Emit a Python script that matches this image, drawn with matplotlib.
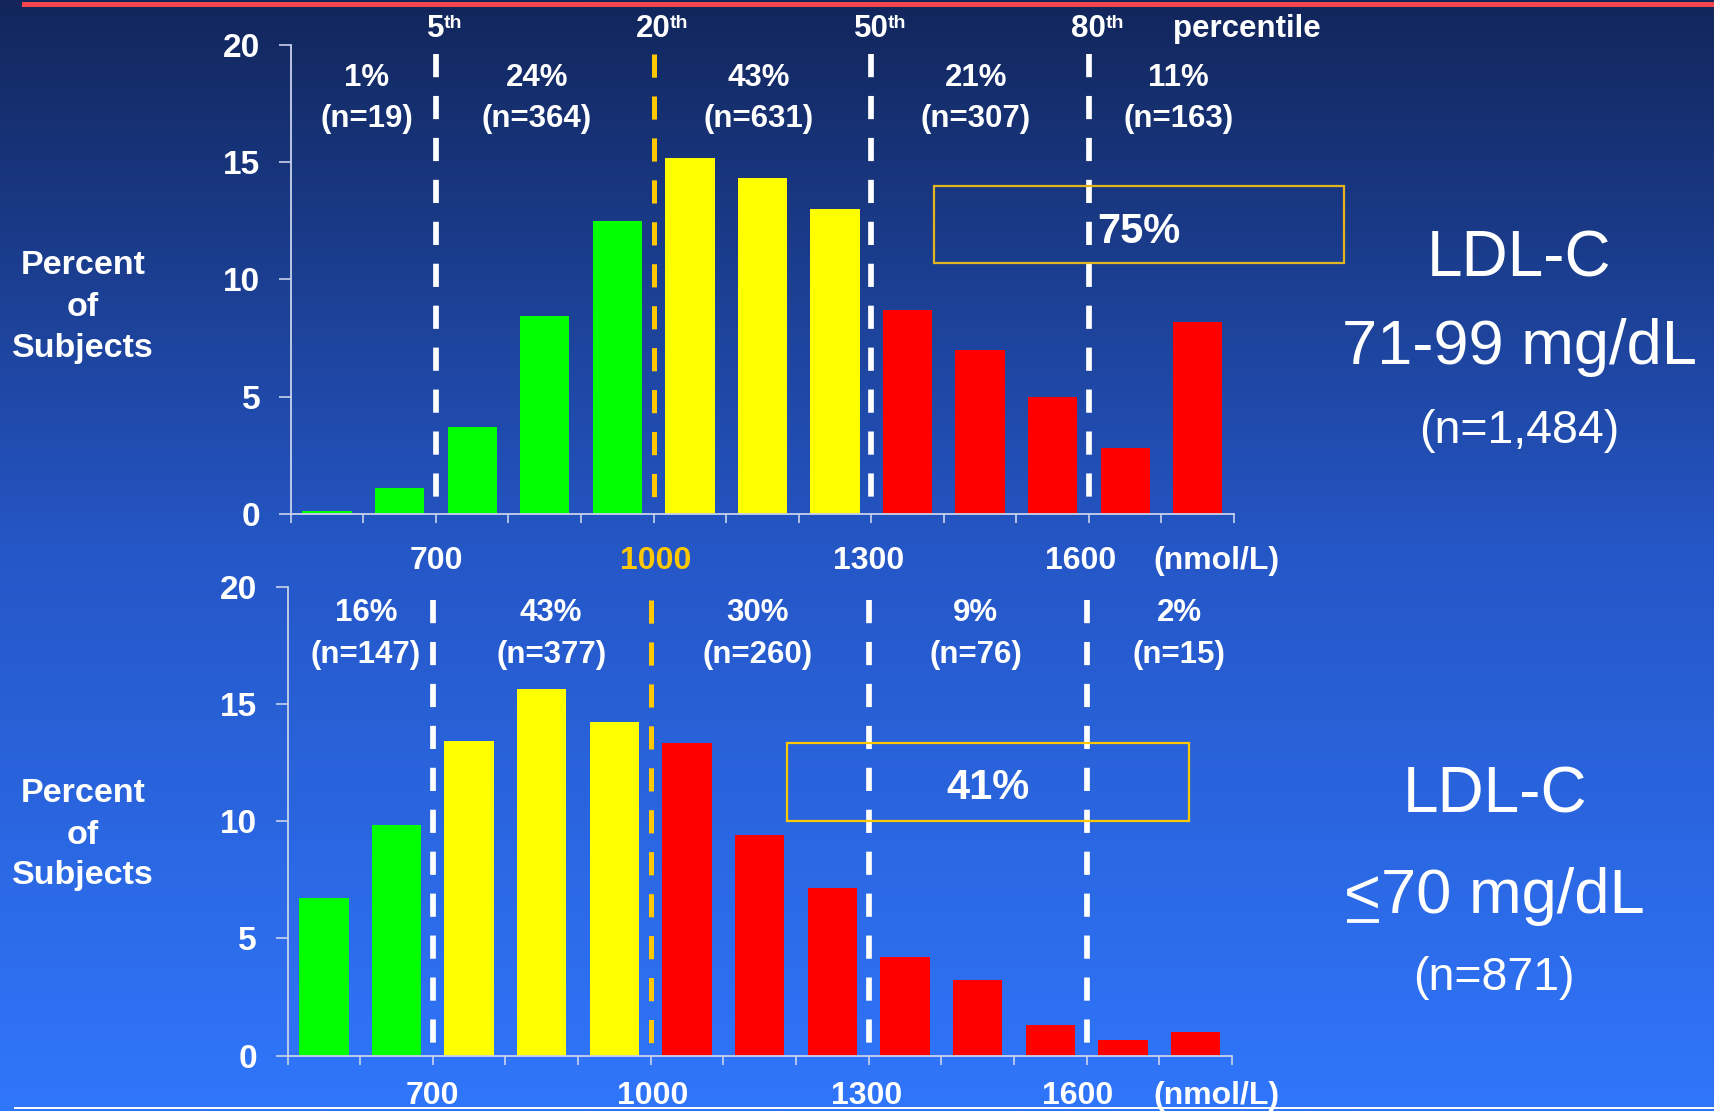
import numpy as np
import matplotlib
matplotlib.use("Agg")
import matplotlib.pyplot as plt
from matplotlib.patches import Rectangle
from matplotlib.lines import Line2D
from matplotlib.colors import to_rgb

plt.rcParams['font.family'] = ['Liberation Sans', 'DejaVu Sans']
plt.rcParams['lines.scale_dashes'] = False

W, H = 1714, 1111

# lower edge of each 100 nmol/L LDL-P bin
bin_lo = [500, 600, 700, 800, 900, 1000, 1100, 1200, 1300, 1400, 1500, 1600, 1700]

# percent of subjects per bin
pct_71_99 = [0.1, 1.1, 3.7, 8.45, 12.5, 15.2, 14.35, 13.0, 8.7, 7.0, 4.97, 2.8, 8.18]
pct_le70 = [6.72, 9.83, 13.43, 15.64, 14.22, 13.34, 9.41, 7.13, 4.21, 3.23, 1.3, 0.65, 0.99]

grp_71_99 = ['g', 'g', 'g', 'g', 'g', 'y', 'y', 'y', 'r', 'r', 'r', 'r', 'r']
grp_le70 = ['g', 'g', 'y', 'y', 'y', 'r', 'r', 'r', 'r', 'r', 'r', 'r', 'r']

# percentile cut points
cuts = [700, 1000, 1300, 1600]
cut_names = ['5', '20', '50', '80']

share_71_99 = ['1%', '24%', '43%', '21%', '11%']
n_71_99 = ['(n=19)', '(n=364)', '(n=631)', '(n=307)', '(n=163)']
share_le70 = ['16%', '43%', '30%', '9%', '2%']
n_le70 = ['(n=147)', '(n=377)', '(n=260)', '(n=76)', '(n=15)']

x_labels = ['700', '1000', '1300', '1600', '(nmol/L)']

GOLD = '#FFC800'
bar_colors = {'g': '#00FF00', 'y': '#FFFF00', 'r': '#FF0000'}
AXIS_C = '#C9D2EC'


def fx(px):
    return px / W


def fy(py):
    return 1 - py / H


fig = plt.figure(figsize=(W / 100, H / 100), dpi=100)

# background gradient, dark navy at top to bright blue at bottom
bg = fig.add_axes([0, 0, 1, 1], zorder=-10)
t = np.linspace(0, 1, 400)
stops = [0.0, 0.5, 1.0]
cols = [to_rgb('#12265B'), to_rgb('#2557C7'), to_rgb('#3076FB')]
grad = np.stack([np.interp(t, stops, [c[i] for c in cols]) for i in range(3)], axis=1)
bg.imshow(grad[:, None, :], aspect='auto', extent=[0, 1, 0, 1])
bg.axis('off')

# red rule at the top, white rule at the bottom
fig.add_artist(Rectangle((fx(22), fy(7)), 1, 5 / H, transform=fig.transFigure,
                         color='#F24550', lw=0))
fig.add_artist(Line2D([fx(15), 1], [fy(1107.5), fy(1107.5)], transform=fig.transFigure,
                      color='white', lw=1.4))


def panel(rect, pct, grp, shares, ns, share_x, ys, box, box_txt, box_c, dash_top,
          xlab_y, lab_x):
    ax = fig.add_axes(rect)
    ax.set_facecolor('none')
    centers = [b + 50 for b in bin_lo]
    ax.bar(centers, pct, width=68, color=[bar_colors[g] for g in grp], zorder=2)
    ax.set_xlim(500, 1800)
    ax.set_ylim(0, 20)
    for s in ['top', 'right']:
        ax.spines[s].set_visible(False)
    for s in ['left', 'bottom']:
        ax.spines[s].set_color(AXIS_C)
        ax.spines[s].set_linewidth(1.3)
    ax.set_yticks([0, 5, 10, 15, 20])
    ax.set_xticks(bin_lo + [1800])
    ax.set_xticklabels([])
    ax.tick_params(axis='y', colors=AXIS_C, length=9, width=1.2, pad=13,
                   labelsize=24, labelcolor='white')
    ax.tick_params(axis='x', colors=AXIS_C, length=6.5, width=1.2)
    for lb in ax.get_yticklabels():
        lb.set_fontweight('bold')

    for c in cuts:
        ax.plot([c, c], [dash_top, 0], color=GOLD if c == 1000 else 'white',
                lw=3.6 if c == 1000 else 4.1, dashes=(16.7, 13.5), zorder=3)

    for sx, s, n in zip(share_x, shares, ns):
        ax.text(sx, ys[0], s, ha='center', va='baseline', color='white',
                fontsize=22.5, fontweight='bold')
        ax.text(sx, ys[1], n, ha='center', va='baseline', color='white',
                fontsize=22.5, fontweight='bold')

    ax.add_patch(Rectangle((box[0], box[2]), box[1] - box[0], box[3] - box[2],
                           fill=False, ec=box_c, lw=1.6, clip_on=False, zorder=4))
    ax.text(box_txt[1], box_txt[2], box_txt[0], ha='center', va='baseline',
            color='white', fontsize=30, fontweight='bold', zorder=5)

    xl = []
    for x, lab in zip(lab_x, x_labels):
        xl.append(ax.text(x, xlab_y, lab, ha='center', va='baseline', fontsize=23,
                          fontweight='bold', color='white'))
    return ax, xl


top, top_xl = panel([fx(290.8), fy(513.6), fx(1234 - 290.8), (513.6 - 45.4) / H],
                    pct_71_99, grp_71_99, share_71_99, n_71_99,
                    [605, 839, 1145, 1444, 1724], (18.28, 16.52),
                    (1386, 1952, 10.69, 14.0), ('75%', 1669, 11.56), '#E2B420', 19.65,
                    -2.37, [700, 1003, 1297, 1588, 1776])
bot, bot_xl = panel([fx(287.5), fy(1055.7), fx(1232 - 287.5), (1055.7 - 586.6) / H],
                    pct_le70, grp_le70, share_le70, n_le70,
                    [608, 863, 1147, 1447, 1727], (18.54, 16.74),
                    (1187, 1741, 9.99, 13.34), ('41%', 1464, 10.93), GOLD, 19.43,
                    -2.08, [700, 1003, 1297, 1588, 1779])

# the 1000 label between the panels is gold
top_xl[1].set_color(GOLD)

# percentile header above the top panel
for c, name in zip(cuts, cut_names):
    base = top.text(c, 20.37, name, ha='center', va='baseline', color='white',
                    fontsize=22.5, fontweight='bold')
    top.annotate('th', xy=(1, 20.75), xycoords=(base, 'data'), xytext=(-0.5, 0),
                 textcoords='offset points', ha='left', va='baseline',
                 color='white', fontsize=14, fontweight='bold')
top.text(1818, 20.37, 'percentile', ha='center', va='baseline', color='white',
         fontsize=22.5, fontweight='bold')

# y-axis titles
for base_y in [(274.3, 316, 357), (801.5, 844, 884)]:
    for py, word in zip(base_y, ['Percent', 'of', 'Subjects']):
        fig.text(fx(83), fy(py), word, ha='center', va='baseline', color='white',
                 fontsize=24.5, fontweight='bold')

# group titles on the right
fig.text(fx(1519), fy(276.8), 'LDL-C', ha='center', va='baseline', color='white', fontsize=46)
fig.text(fx(1519), fy(364.3), '71-99 mg/dL', ha='center', va='baseline', color='white', fontsize=45.5)
fig.text(fx(1519), fy(442.9), '(n=1,484)', ha='center', va='baseline', color='white', fontsize=33.5)

fig.text(fx(1495), fy(812.4), 'LDL-C', ha='center', va='baseline', color='white', fontsize=46)
le = fig.text(fx(1494), fy(913.3), '<70 mg/dL', ha='center', va='baseline', color='white',
              fontsize=45.5)
fig.text(fx(1494), fy(989.7), '(n=871)', ha='center', va='baseline', color='white', fontsize=33.5)

# underline the "<" so it reads as less-than-or-equal
fig.canvas.draw()
r = fig.canvas.get_renderer()
bb = le.get_window_extent(r)
probe = fig.text(0, 0, '<', fontsize=45.5)
w_lt = probe.get_window_extent(r).width
probe.remove()
fig.add_artist(Line2D([bb.x0 / W + 0.002, (bb.x0 + w_lt) / W - 0.001], [fy(920.7)] * 2,
                      transform=fig.transFigure, color='white', lw=2.7,
                      solid_capstyle='butt'))

fig.savefig('out.png', dpi=100)
